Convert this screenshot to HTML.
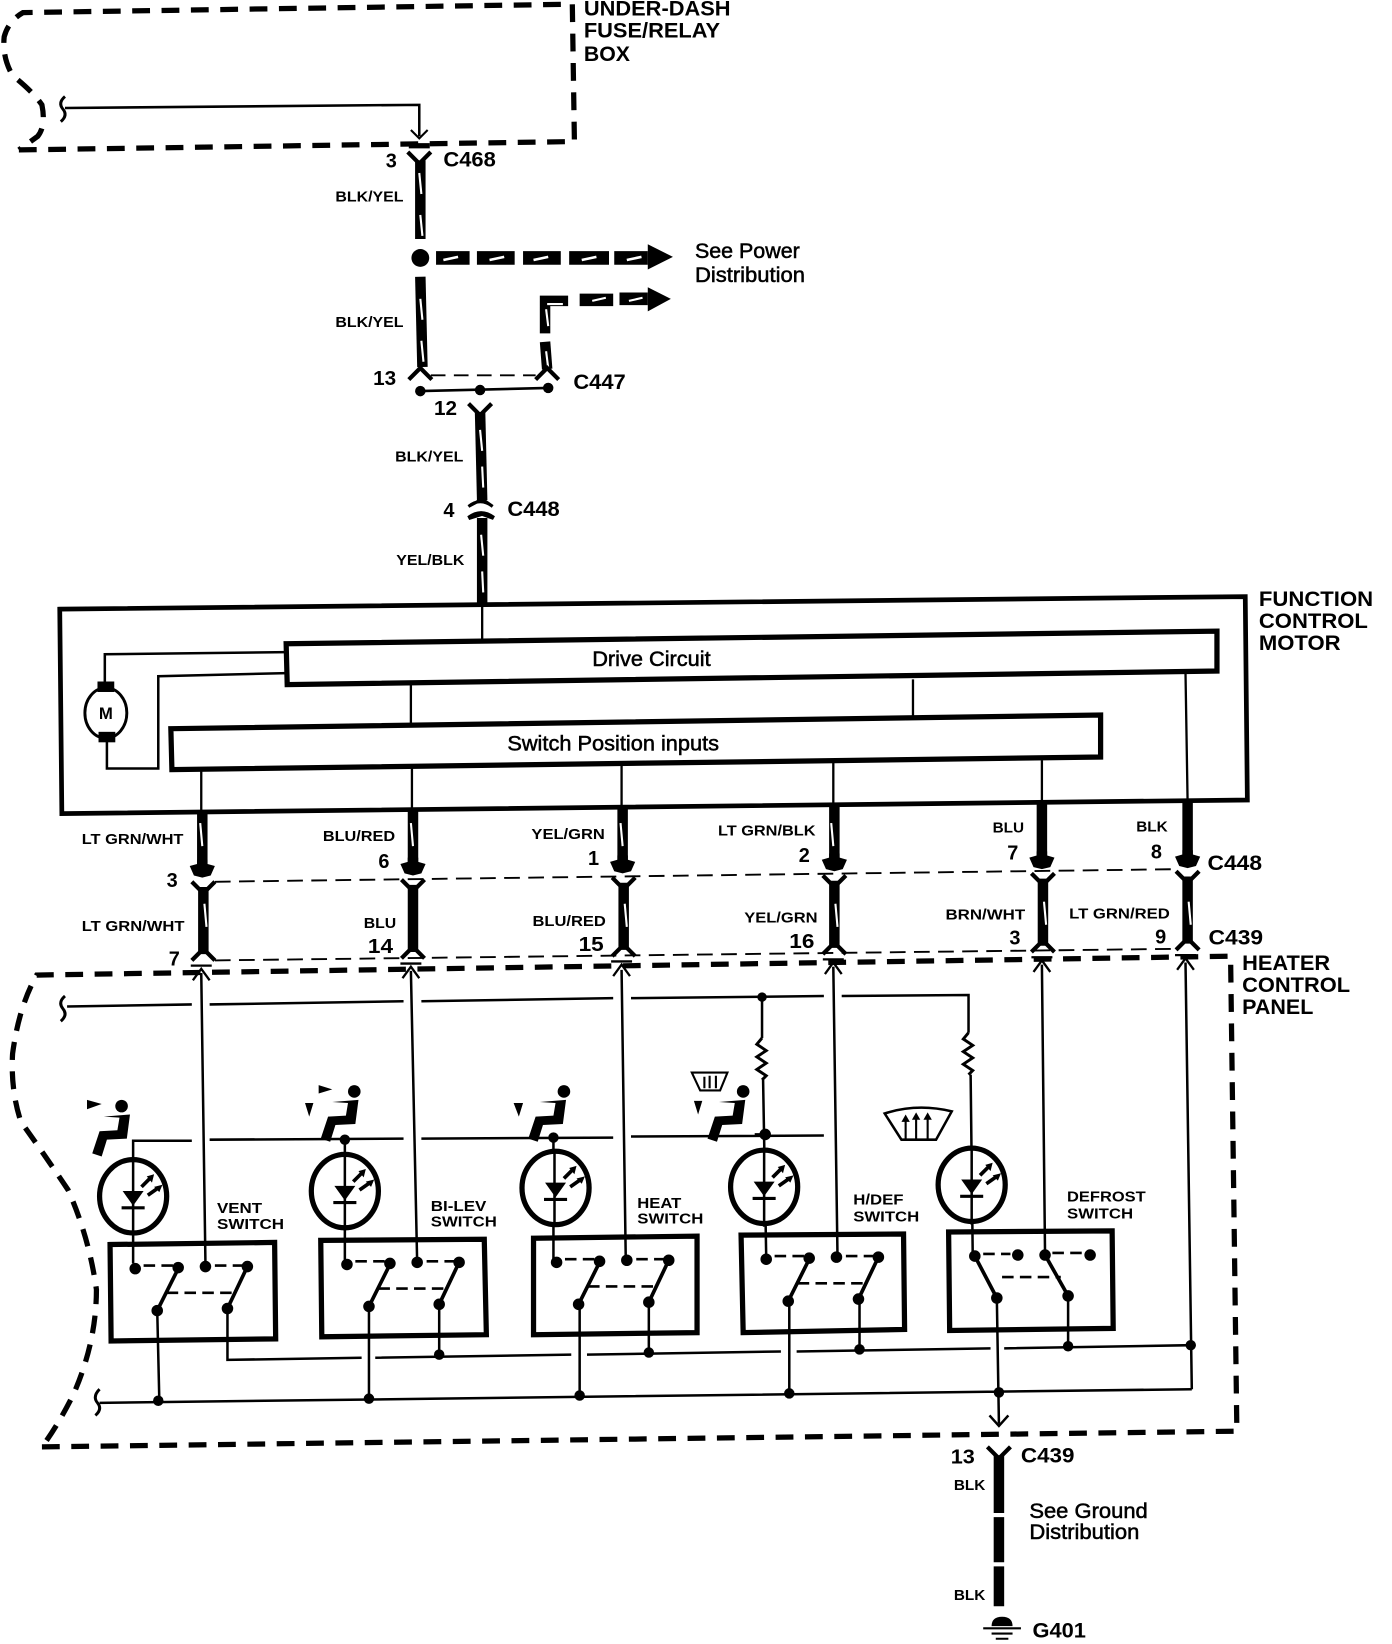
<!DOCTYPE html>
<html><head><meta charset="utf-8"><style>
html,body{margin:0;padding:0;background:#fff}
svg{display:block}
text{font-family:"Liberation Sans",sans-serif;fill:#000}
.b{font-weight:bold}
.t{font-size:14px;font-weight:bold}
.n{font-size:19px;font-weight:bold}
.c{font-size:20px;font-weight:bold}
.l{font-size:20px;stroke:#000;stroke-width:.5}
.s{font-size:14.5px;font-weight:bold}
</style></head><body>
<svg xmlns="http://www.w3.org/2000/svg" width="1392" height="1644" viewBox="0 0 1328 1568" preserveAspectRatio="none">
<defs>
<g id="cup"><path d="M-12,-6 L-5,-8 L-5,-12 L5,-12 L5,-8 L12,-6 L8,3 L0,5 L-8,3Z" fill="#000"/></g>
<path id="yc" d="M-11,-5 L0,6 L11,-5" fill="none" stroke="#000" stroke-width="4"/>
<path id="fl" d="M-11,6 L0,-5 L11,6" fill="none" stroke="#000" stroke-width="4"/>
<path id="up" d="M-8,9 L0,-2 L8,9 M-10,-5 H10" fill="none" stroke="#000" stroke-width="2.2"/>
<g id="led">
<ellipse cx="0" cy="0" rx="32" ry="35" fill="#fff" stroke="#000" stroke-width="5"/>
<path d="M-10,-5 H10 L0,9Z" fill="#000"/><path d="M-11,11 H11" stroke="#000" stroke-width="3"/>
<path d="M8,-9 L16,-17 M14,-1 L24,-8" stroke="#000" stroke-width="3.5"/>
<path d="M20,-21 L13,-19 L18,-13Z M28,-11 L20,-9 L25,-4Z" fill="#000"/>
</g>
<g id="sw" fill="#000" stroke="#000">
<path d="M8,-3 H38 M76,-3 H104 M30,23 H96" fill="none" stroke-width="2.5" stroke-dasharray="11 6"/>
<path d="M21,40 L41,0 M88,38 L107,-2" fill="none" stroke-width="3.5"/>
<circle cx="0" cy="0" r="5"/><circle cx="41" cy="-1" r="5"/><circle cx="67" cy="-2" r="5"/><circle cx="107" cy="-2" r="5"/><circle cx="21" cy="40" r="5"/><circle cx="88" cy="38" r="5"/>
</g>
<path id="seat" d="M-1,-3 L24,-5 L21,18 L2,19 L-3,35 L-12,32 L-5,11 L12,10 L14,-2Z" fill="#000" transform="translate(0,0)"/>
</defs>

<!-- fuse box -->
<path d="M18,143 L548,135 L546,4 L22,12 Q8,20 4,35 Q2,55 12,72 Q32,88 40,100 Q44,120 36,130 L18,143" fill="none" stroke="#000" stroke-width="5" stroke-dasharray="17 11"/>
<path d="M62,103 L400,100 V130" fill="none" stroke="#000" stroke-width="2.4"/>
<path d="M392,124 L400,132 L408,124" fill="none" stroke="#000" stroke-width="2"/>
<path d="M62,92 Q55,98 60,104 Q65,110 58,116" fill="none" stroke="#000" stroke-width="2.8"/>
<path d="M390,139 H410" stroke="#000" stroke-width="5"/>

<!-- main wire -->
<use href="#yc" x="400" y="150"/>
<path d="M401,153 V228" stroke="#000" stroke-width="10"/>
<circle cx="401" cy="246" r="8.5" fill="#000"/>
<path d="M401,264 L403,350" stroke="#000" stroke-width="10"/>
<use href="#fl" x="401" y="356"/>
<path d="M400,165 l2,20 M401,205 l2,20 M401,285 l2,20 M402,325 l2,20" stroke="#fff" stroke-width="2"/>
<path d="M416,246 H448 M455,246 H491 M499,246 H535 M543,246 H581 M586,246 H618" stroke="#000" stroke-width="13"/>
<path d="M618,233 L642,245 L618,257Z" fill="#000"/>
<path d="M423,248 l14,-3 M467,248 l14,-3 M509,248 l14,-3 M555,248 l14,-3 M598,248 l14,-3" stroke="#fff" stroke-width="2.5"/>
<path d="M520,318 V287 H542" fill="none" stroke="#000" stroke-width="10"/>
<path d="M520,326 L522,352" stroke="#000" stroke-width="10"/>
<path d="M553,286 H585 M591,285 H618" stroke="#000" stroke-width="12"/>
<path d="M618,274 L640,285 L618,297Z" fill="#000"/>
<path d="M522,290 H537 M521,295 l2,16 M521,335 l2,16 M565,287 l13,-3 M600,287 l13,-3" stroke="#fff" stroke-width="2"/>
<use href="#fl" x="522" y="356"/>
<path d="M411,358 H511" fill="none" stroke="#000" stroke-width="1.8" stroke-dasharray="14 8"/>
<path d="M401,373 L523,370" stroke="#000" stroke-width="2.5"/>
<circle cx="401" cy="373" r="5"/><circle cx="458" cy="372" r="5"/><circle cx="523" cy="370" r="5"/>
<use href="#yc" x="458" y="390"/>
<path d="M458,393 L460,477" stroke="#000" stroke-width="10"/>
<path d="M447,483 Q458,474 470,483 L460,476Z" fill="#000" stroke="#000" stroke-width="3"/>
<path d="M447,494 Q459,485 471,494 L460,490Z" fill="#000" stroke="#000" stroke-width="4"/>
<path d="M460,494 V575" stroke="#000" stroke-width="10"/>
<path d="M458,410 l2,20 M460,445 l1,20 M459,510 l2,20 M460,545 l1,20" stroke="#fff" stroke-width="2"/>

<!-- function motor -->
<path d="M57,581 L1188,569 L1190,763 L59,776Z" fill="none" stroke="#000" stroke-width="4.5"/>
<path d="M273,614 L1161,602 L1161,640 L274,653Z" fill="none" stroke="#000" stroke-width="5"/>
<path d="M163,695 L1050,682 L1050,722 L164,734Z" fill="none" stroke="#000" stroke-width="5"/>
<path d="M460,575 V610 M392,653 V691 M871,648 V685 M1131,642 L1133,765 M192,734 V776 M393,732 V773 M593,730 V771 M795,727 V768 M994,725 V765" stroke="#000" stroke-width="2.2" fill="none"/>
<path d="M273,622 L100,624 V650 M273,642 L151,645 V733 H102 V705" fill="none" stroke="#000" stroke-width="2.4"/>
<ellipse cx="101" cy="680" rx="20" ry="24" fill="#fff" stroke="#000" stroke-width="2.8"/>
<rect x="93" y="650" width="16" height="10"/><rect x="94" y="698" width="16" height="10"/>
<text x="101" y="686" text-anchor="middle" style="font-size:16px;font-weight:bold">M</text>

<!-- thick wires upper -->
<g stroke="#000" fill="none">
<path d="M193,776 V826 M394,772 V824 M594,770 V822 M796,768 V820 M994,766 V818 M1133,764 V817" stroke-width="10"/>
<path d="M194,846 V910 M394,844 V908 M595,842 V906 M796,840 V904 M995,838 V902 M1133,836 V900" stroke-width="10"/>
<path d="M205,841 L1122,829 M205,916 L1120,905" stroke-width="1.8" stroke-dasharray="15 8"/>
</g>
<use href="#cup" x="193" y="832"/><use href="#cup" x="394" y="830"/><use href="#cup" x="594" y="828"/><use href="#cup" x="796" y="826"/><use href="#cup" x="994" y="824"/><use href="#cup" x="1133" y="823"/>
<use href="#yc" x="194" y="846"/><use href="#yc" x="394" y="844"/><use href="#yc" x="595" y="842"/><use href="#yc" x="796" y="840"/><use href="#yc" x="995" y="838"/><use href="#yc" x="1133" y="836"/>
<use href="#fl" x="194" y="910"/><use href="#fl" x="394" y="908"/><use href="#fl" x="595" y="906"/><use href="#fl" x="796" y="904"/><use href="#fl" x="995" y="902"/><use href="#fl" x="1133" y="900"/>
<path d="M191,785 l2,22 M392,785 l2,22 M592,785 l2,22 M793,785 l2,22 M195,862 l2,22 M596,862 l2,22 M797,862 l2,22 M996,860 l2,22 M1134,860 l2,22" stroke="#fff" stroke-width="2"/>

<!-- heater panel -->
<path d="M40,1380 L1180,1365 L1174,912 L35,930 Q18,960 12,1005 Q10,1040 20,1070 Q45,1105 65,1135 Q85,1180 92,1230 Q92,1280 70,1330 Q55,1360 40,1380" fill="none" stroke="#000" stroke-width="5" stroke-dasharray="17 11"/>

<g stroke="#000" fill="none" stroke-width="2.4">
<path d="M192,928 L196,1205 M392,926 L398,1205 M593,925 L597,1202 M795,922 L799,1198 M994,920 L997,1197 M1131,918 L1137,1325"/>
<path d="M64,960 L183,958 M200,958 L385,955 M402,955 L585,952 M602,952 L786,950 M803,950 L924,949 V985 M926,1025 L928,1197"/>
<path d="M727,951 V990 M728,1030 L731,1200"/>
<path d="M127,1205 V1088 L183,1088 M200,1087 L385,1086 M402,1086 L585,1085 M602,1084 L786,1083 M329,1087 V1205 M528,1085 V1203 M730,1082 L720,1082"/>
<path d="M727,990 l-5,6 l9,6 l-9,6 l9,6 l-9,6 l9,6 l-4,4 M924,985 l-5,6 l9,6 l-9,6 l9,6 l-9,6 l9,6 l-4,4" stroke-width="2.8"/>
<path d="M217,1248 V1297 L345,1295 M358,1295 L545,1292 M560,1292 L745,1289 M760,1289 L945,1286 M958,1286 L1136,1283"/>
<path d="M95,1338 L1137,1325 M150,1250 L152,1336 M352,1250 V1334 M553,1245 V1331 M753,1243 V1329 M951,1238 L953,1358 M419,1243 V1292 M619,1243 V1290 M820,1240 V1287 M1019,1236 V1284"/>
<path d="M944,1350 L953,1360 L962,1350"/>
</g>
<path d="M62,950 Q55,956 60,962 Q65,968 58,974 M95,1325 Q88,1332 93,1338 Q98,1344 91,1350" fill="none" stroke="#000" stroke-width="2.8"/>
<g fill="#000">
<circle cx="727" cy="951" r="4.5"/><circle cx="329" cy="1087" r="5"/><circle cx="528" cy="1085" r="5"/><circle cx="730" cy="1082" r="5.5"/>
<circle cx="419" cy="1292" r="5"/><circle cx="619" cy="1290" r="5"/><circle cx="820" cy="1287" r="5"/><circle cx="1019" cy="1284" r="5"/><circle cx="1136" cy="1283" r="5"/>
<circle cx="151" cy="1336" r="5"/><circle cx="352" cy="1334" r="5"/><circle cx="553" cy="1331" r="5"/><circle cx="753" cy="1329" r="5"/><circle cx="953" cy="1328" r="5"/>
</g>
<use href="#up" x="192" y="926"/><use href="#up" x="392" y="924"/><use href="#up" x="593" y="922"/><use href="#up" x="795" y="920"/><use href="#up" x="994" y="918"/><use href="#up" x="1131" y="916"/>

<!-- LEDs -->
<use href="#led" x="127" y="1141"/><use href="#led" x="329" y="1136"/><use href="#led" x="530" y="1133"/><use href="#led" x="729" y="1132"/><use href="#led" x="927" y="1130"/>
<path d="M127,1105 V1178 M329,1100 V1174 M529,1097 V1170 M729,1096 V1170 M927,1095 V1168" stroke="#000" stroke-width="2.4"/>

<!-- switch boxes -->
<g fill="none" stroke="#000" stroke-width="5">
<path d="M105,1187 L262,1185 L263,1277 L106,1279Z"/>
<path d="M306,1183 L462,1182 L464,1273 L307,1275Z"/>
<path d="M509,1181 L665,1179 L665,1271 L509,1273Z"/>
<path d="M707,1178 L862,1177 L863,1268 L709,1271Z"/>
<path d="M905,1175 L1061,1174 L1062,1267 L906,1269Z"/>
</g>
<use href="#sw" x="129" y="1210"/><use href="#sw" x="331" y="1206"/><use href="#sw" x="531" y="1204"/><use href="#sw" x="731" y="1201"/>
<g fill="#000" stroke="#000">
<path d="M938,1196 H964 M1004,1195 H1032 M956,1218 H1012" fill="none" stroke-width="2.5" stroke-dasharray="11 6"/>
<path d="M930,1198 L951,1238 M997,1197 L1019,1236" fill="none" stroke-width="3.5"/>
<circle cx="930" cy="1198" r="5"/><circle cx="971" cy="1197" r="5"/><circle cx="997" cy="1197" r="5"/><circle cx="1040" cy="1197" r="5"/><circle cx="951" cy="1238" r="5"/><circle cx="1019" cy="1236" r="5"/>
</g>

<!-- seat icons -->
<g fill="#000">
<ellipse cx="116" cy="1055" rx="6" ry="6"/><use href="#seat" x="100" y="1068"/><path d="M83,1049 L97,1053 L83,1058Z"/>
<ellipse cx="338" cy="1041" rx="6" ry="6"/><use href="#seat" x="318" y="1054"/><path d="M304,1035 L317,1039 L304,1043Z M291,1052 L299,1052 L295,1065Z"/>
<ellipse cx="538" cy="1041" rx="6" ry="6"/><use href="#seat" x="516" y="1054"/><path d="M490,1052 L499,1052 L495,1065Z"/>
<ellipse cx="709" cy="1041" rx="6" ry="6"/><use href="#seat" x="687" y="1054"/><path d="M662,1050 L670,1050 L666,1063Z"/>
</g>
<path d="M660,1023 H694 L687,1040 H668Z" fill="none" stroke="#000" stroke-width="2"/>
<path d="M672,1027 V1038 M677,1026 V1038 M683,1026 V1038" stroke="#000" stroke-width="2"/>
<path d="M844,1062 Q875,1052 908,1060 L893,1087 H860Z" fill="none" stroke="#000" stroke-width="2.4"/>
<path d="M864,1086 V1068 M874,1086 V1066 M885,1086 V1066" stroke="#000" stroke-width="2"/>
<path d="M860,1070 L864,1063 L868,1070Z M870,1068 L874,1061 L878,1068Z M881,1068 L885,1061 L889,1068Z" fill="#000"/>

<!-- lower wire -->
<use href="#yc" x="953" y="1385"/>
<path d="M953,1388 V1443 M953,1447 V1490 M953,1494 V1532" stroke="#000" stroke-width="10"/>
<path d="M946,1551 Q946,1542 956,1542 Q966,1542 966,1551Z" fill="#000"/>
<path d="M938,1553 H974 M946,1558 H966 M950,1563 H962" stroke="#000" stroke-width="2"/>

<!-- labels -->
<text x="557" y="15" class="c" textLength="140" lengthAdjust="spacingAndGlyphs">UNDER-DASH</text>
<text x="557" y="36" class="c" textLength="130" lengthAdjust="spacingAndGlyphs">FUSE/RELAY</text>
<text x="557" y="58" class="c" textLength="44" lengthAdjust="spacingAndGlyphs">BOX</text>
<text x="368" y="160" class="n">3</text><text x="423" y="159" class="c" textLength="50" lengthAdjust="spacingAndGlyphs">C468</text>
<text x="320" y="192" class="t" textLength="65" lengthAdjust="spacingAndGlyphs">BLK/YEL</text>
<text x="320" y="312" class="t" textLength="65" lengthAdjust="spacingAndGlyphs">BLK/YEL</text>
<text x="377" y="440" class="t" textLength="65" lengthAdjust="spacingAndGlyphs">BLK/YEL</text>
<text x="378" y="539" class="t" textLength="65" lengthAdjust="spacingAndGlyphs">YEL/BLK</text>
<text x="663" y="246" class="l" textLength="100" lengthAdjust="spacingAndGlyphs">See Power</text>
<text x="663" y="269" class="l" textLength="105" lengthAdjust="spacingAndGlyphs">Distribution</text>
<text x="356" y="367" class="n" textLength="22" lengthAdjust="spacingAndGlyphs">13</text><text x="547" y="371" class="c" textLength="50" lengthAdjust="spacingAndGlyphs">C447</text>
<text x="414" y="396" class="n" textLength="22" lengthAdjust="spacingAndGlyphs">12</text>
<text x="423" y="493" class="n">4</text><text x="484" y="492" class="c" textLength="50" lengthAdjust="spacingAndGlyphs">C448</text>
<text x="1201" y="578" class="c" textLength="109" lengthAdjust="spacingAndGlyphs">FUNCTION</text>
<text x="1201" y="599" class="c" textLength="104" lengthAdjust="spacingAndGlyphs">CONTROL</text>
<text x="1201" y="620" class="c" textLength="78" lengthAdjust="spacingAndGlyphs">MOTOR</text>
<text x="565" y="635" class="l" textLength="113" lengthAdjust="spacingAndGlyphs">Drive Circuit</text>
<text x="484" y="716" class="l" textLength="202" lengthAdjust="spacingAndGlyphs">Switch Position inputs</text>
<text x="78" y="805" class="t" textLength="97" lengthAdjust="spacingAndGlyphs">LT GRN/WHT</text>
<text x="308" y="802" class="t" textLength="69" lengthAdjust="spacingAndGlyphs">BLU/RED</text>
<text x="507" y="800" class="t" textLength="70" lengthAdjust="spacingAndGlyphs">YEL/GRN</text>
<text x="685" y="797" class="t" textLength="93" lengthAdjust="spacingAndGlyphs">LT GRN/BLK</text>
<text x="947" y="794" class="t" textLength="30" lengthAdjust="spacingAndGlyphs">BLU</text>
<text x="1084" y="793" class="t" textLength="30" lengthAdjust="spacingAndGlyphs">BLK</text>
<text x="361" y="828" class="n">6</text><text x="561" y="825" class="n">1</text><text x="762" y="822" class="n">2</text><text x="961" y="820" class="n">7</text><text x="1098" y="819" class="n">8</text>
<text x="1152" y="830" class="c" textLength="52" lengthAdjust="spacingAndGlyphs">C448</text>
<text x="159" y="846" class="n">3</text>
<text x="78" y="888" class="t" textLength="98" lengthAdjust="spacingAndGlyphs">LT GRN/WHT</text>
<text x="347" y="885" class="t" textLength="31" lengthAdjust="spacingAndGlyphs">BLU</text>
<text x="508" y="883" class="t" textLength="70" lengthAdjust="spacingAndGlyphs">BLU/RED</text>
<text x="710" y="880" class="t" textLength="70" lengthAdjust="spacingAndGlyphs">YEL/GRN</text>
<text x="902" y="877" class="t" textLength="76" lengthAdjust="spacingAndGlyphs">BRN/WHT</text>
<text x="1020" y="876" class="t" textLength="96" lengthAdjust="spacingAndGlyphs">LT GRN/RED</text>
<text x="161" y="921" class="n">7</text>
<text x="351" y="909" class="n" textLength="24" lengthAdjust="spacingAndGlyphs">14</text><text x="552" y="907" class="n" textLength="24" lengthAdjust="spacingAndGlyphs">15</text><text x="753" y="904" class="n" textLength="24" lengthAdjust="spacingAndGlyphs">16</text>
<text x="963" y="901" class="n">3</text><text x="1102" y="900" class="n">9</text>
<text x="1153" y="901" class="c" textLength="52" lengthAdjust="spacingAndGlyphs">C439</text>
<text x="1185" y="925" class="c" textLength="84" lengthAdjust="spacingAndGlyphs">HEATER</text>
<text x="1185" y="946" class="c" textLength="103" lengthAdjust="spacingAndGlyphs">CONTROL</text>
<text x="1185" y="967" class="c" textLength="68" lengthAdjust="spacingAndGlyphs">PANEL</text>
<text x="207" y="1157" class="s" textLength="43" lengthAdjust="spacingAndGlyphs">VENT</text>
<text x="207" y="1172" class="s" textLength="64" lengthAdjust="spacingAndGlyphs">SWITCH</text>
<text x="411" y="1155" class="s" textLength="53" lengthAdjust="spacingAndGlyphs">BI-LEV</text>
<text x="411" y="1170" class="s" textLength="63" lengthAdjust="spacingAndGlyphs">SWITCH</text>
<text x="608" y="1152" class="s" textLength="42" lengthAdjust="spacingAndGlyphs">HEAT</text>
<text x="608" y="1167" class="s" textLength="63" lengthAdjust="spacingAndGlyphs">SWITCH</text>
<text x="814" y="1149" class="s" textLength="48" lengthAdjust="spacingAndGlyphs">H/DEF</text>
<text x="814" y="1165" class="s" textLength="63" lengthAdjust="spacingAndGlyphs">SWITCH</text>
<text x="1018" y="1146" class="s" textLength="75" lengthAdjust="spacingAndGlyphs">DEFROST</text>
<text x="1018" y="1162" class="s" textLength="63" lengthAdjust="spacingAndGlyphs">SWITCH</text>
<text x="907" y="1396" class="n" textLength="23" lengthAdjust="spacingAndGlyphs">13</text><text x="974" y="1395" class="c" textLength="51" lengthAdjust="spacingAndGlyphs">C439</text>
<text x="910" y="1421" class="t" textLength="30" lengthAdjust="spacingAndGlyphs">BLK</text>
<text x="982" y="1448" class="l" textLength="113" lengthAdjust="spacingAndGlyphs">See Ground</text>
<text x="982" y="1468" class="l" textLength="105" lengthAdjust="spacingAndGlyphs">Distribution</text>
<text x="910" y="1526" class="t" textLength="30" lengthAdjust="spacingAndGlyphs">BLK</text>
<text x="985" y="1562" class="c" textLength="51" lengthAdjust="spacingAndGlyphs">G401</text>
</svg>
</body></html>
